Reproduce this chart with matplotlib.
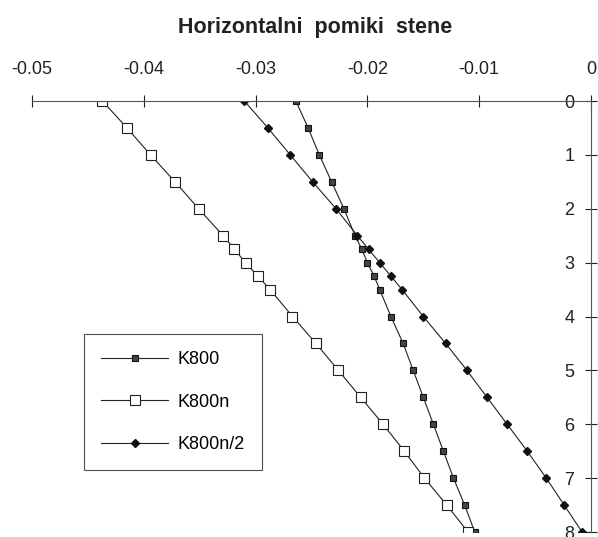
import matplotlib
matplotlib.use('Agg')
import matplotlib.pyplot as plt

plt.rcParams['font.family'] = ['Liberation Sans', 'DejaVu Sans']

# depth (height along wall) and horizontal displacements
depth = [0, 0.5, 1, 1.5, 2, 2.5, 2.75, 3, 3.25, 3.5, 4, 4.5, 5, 5.5, 6, 6.5, 7, 7.5, 8]
k800 = [-0.0264, -0.0253, -0.0243, -0.0232, -0.0221, -0.0211, -0.0205, -0.0200, -0.0194,
        -0.0189, -0.0179, -0.0168, -0.0159, -0.0150, -0.0141, -0.0132, -0.0123, -0.0113, -0.0104]
k800n = [-0.0437, -0.0415, -0.0394, -0.0372, -0.0351, -0.0329, -0.0319, -0.0309, -0.0298,
         -0.0287, -0.0267, -0.0246, -0.0226, -0.0206, -0.0186, -0.0167, -0.0149, -0.0129, -0.0110]
k800n2 = [-0.0310, -0.0289, -0.0269, -0.0249, -0.0228, -0.0209, -0.0199, -0.0189, -0.0179,
          -0.0169, -0.0150, -0.0130, -0.0111, -0.0093, -0.0075, -0.0057, -0.0040, -0.0024, -0.0008]

xticks = [-0.05, -0.04, -0.03, -0.02, -0.01, 0]
xticklabels = ['-0.05', '-0.04', '-0.03', '-0.02', '-0.01', '0']
yticks = [0, 1, 2, 3, 4, 5, 6, 7, 8]

fig = plt.figure(figsize=(5.98, 5.37), dpi=100)
ax = fig.add_axes([0.0535, 0.0093, 0.9348, 0.8026])

ax.plot(k800, depth, '-', color='#222222', lw=0.8, marker='s', ms=5,
        mfc='#444444', mec='#111111', mew=0.8, label='K800')
ax.plot(k800n, depth, '-', color='#222222', lw=0.8, marker='s', ms=7,
        mfc='white', mec='#222222', mew=0.8, label='K800n')
ax.plot(k800n2, depth, '-', color='#222222', lw=0.8, marker='D', ms=4,
        mfc='#111111', mec='#111111', label='K800n/2')

ax.set_xlim(-0.05, 0)
ax.set_ylim(8, 0)

for s in ['bottom', 'right']:
    ax.spines[s].set_visible(False)
ax.spines['left'].set_position(('data', 0))
ax.spines['top'].set_color('#555555')
ax.spines['left'].set_color('#555555')
ax.spines['top'].set_linewidth(0.8)
ax.spines['left'].set_linewidth(0.8)

ax.xaxis.tick_top()
ax.set_xticks(xticks)
ax.set_xticklabels(xticklabels)
ax.set_yticks(yticks)
ax.tick_params(axis='x', direction='inout', length=9, width=0.8, pad=12,
               labelsize=13, colors='#222222')
ax.tick_params(axis='y', direction='inout', length=8, width=0.8, pad=8,
               labelsize=13, colors='#222222')
ax.patch.set_visible(False)

fig.text(0.527, 0.948, 'Horizontalni  pomiki  stene', ha='center', va='center',
         fontsize=15.5, fontweight='bold', color='#222222')

leg = ax.legend(loc='lower left', bbox_to_anchor=(0.1405, 0.1248),
                bbox_transform=fig.transFigure, fontsize=13, frameon=True,
                fancybox=False, edgecolor='#222222', borderaxespad=0,
                handlelength=3.7, handletextpad=0.55, labelspacing=1.4,
                borderpad=0.95)
leg.get_frame().set_linewidth(0.8)

fig.savefig('out.png', dpi=100)
